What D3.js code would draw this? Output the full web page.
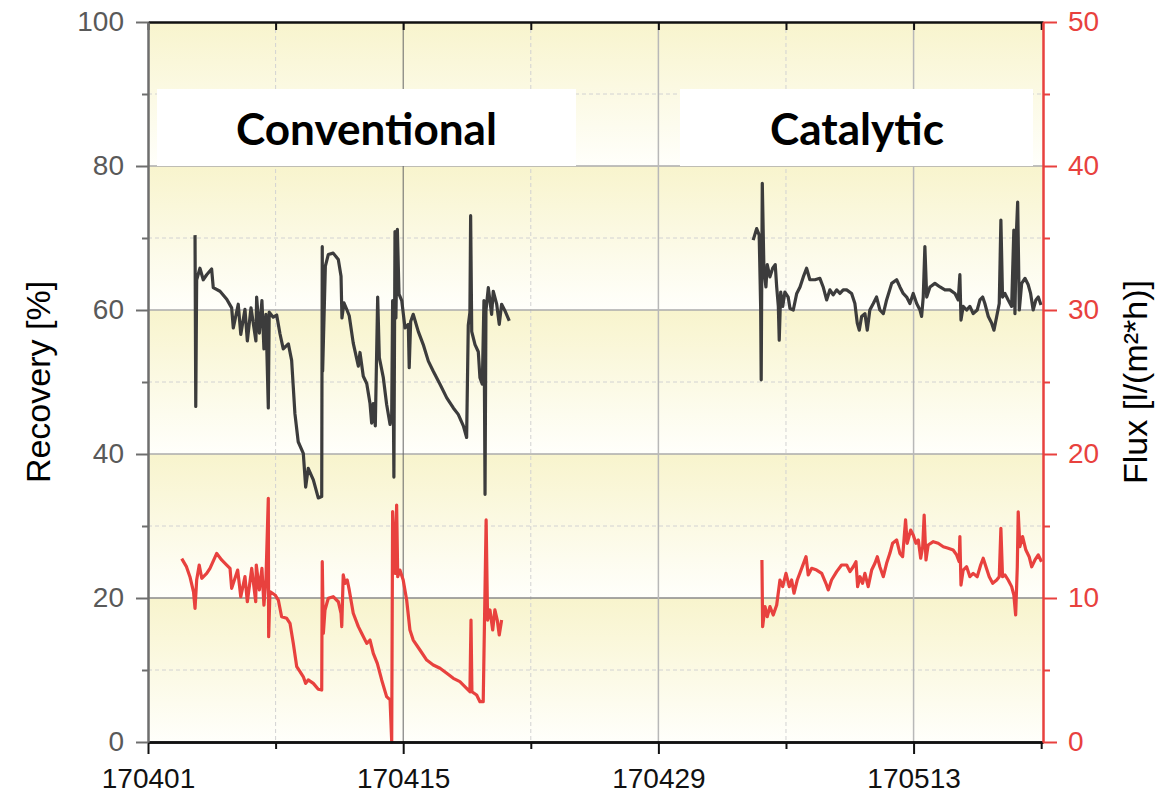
<!DOCTYPE html>
<html>
<head>
<meta charset="utf-8">
<script src="https://cdn.jsdelivr.net/npm/d3@7"></script>
<style>
    body { margin: 0; background: #ffffff; }
</style>
</head>
<body>
<script>
// ---- data (time in days after 170401) ----
const convRecoveryDays = [2.58,2.62,2.67,2.85,3.03,3.22,3.49,3.58,3.95,4.32,4.59,4.68,4.95,5.09,5.32,5.45,5.65,5.92,5.96,6.11,6.25,6.36,6.47,6.60,6.65,6.87,7.06,7.24,7.42,7.70,7.88,8.06,8.24,8.52,8.65,8.79,9.07,9.34,9.53,9.56,9.58,9.73,9.89,10.16,10.44,10.59,10.64,10.75,10.90,11.04,11.26,11.54,11.63,11.81,12.00,12.18,12.27,12.36,12.47,12.60,12.69,12.91,13.09,13.28,13.37,13.42,13.49,13.55,13.60,13.68,13.77,13.92,14.10,14.28,14.33,14.41,14.55,14.83,15.10,15.38,15.65,16.02,16.39,16.75,17.02,17.30,17.48,17.57,17.66,17.70,17.76,17.94,18.12,18.21,18.34,18.43,18.49,18.54,18.67,18.85,18.94,19.13,19.27,19.40,19.58,19.82];
const convRecovery = [70.4,46.6,64.2,65.8,64.2,64.9,65.7,63.1,62.6,61.5,60.3,57.5,60.8,56.6,60.1,55.7,60.3,55.7,61.8,56.8,61.3,54.6,59.4,46.4,59.7,59.0,59.3,56.7,54.6,55.3,53.0,45.6,41.7,40.1,35.4,38.0,36.4,33.9,34.1,68.8,51.5,66.1,67.7,67.9,67.0,64.7,58.9,61.0,60.1,59.2,55.4,52.2,54.1,50.8,49.8,47.0,44.3,47.0,43.9,61.8,53.4,50.6,46.9,44.1,45.5,61.3,36.8,70.9,58.9,71.2,62.2,61.3,57.5,58.0,52.0,58.4,59.4,57.0,55.2,52.9,51.5,49.7,47.8,46.4,45.5,43.9,42.3,57.9,59.7,73.1,57.0,55.2,54.2,50.6,49.7,61.3,34.4,59.9,63.1,59.4,62.6,60.8,58.0,60.8,59.9,58.5];

const convFluxDays = [1.85,2.10,2.30,2.50,2.58,2.67,2.81,2.95,3.22,3.40,3.77,4.04,4.32,4.50,4.59,4.92,5.09,5.32,5.45,5.69,5.91,5.94,6.11,6.25,6.36,6.47,6.60,6.62,6.69,6.97,7.15,7.33,7.61,7.79,7.97,8.16,8.34,8.52,8.65,8.79,9.07,9.34,9.53,9.56,9.62,9.71,9.89,10.16,10.44,10.59,10.63,10.71,10.81,10.93,11.04,11.26,11.54,11.72,12.00,12.18,12.36,12.58,12.82,13.09,13.28,13.37,13.42,13.57,13.64,13.70,13.82,14.00,14.19,14.37,14.55,14.92,15.29,15.65,16.02,16.39,16.75,17.11,17.48,17.66,17.72,17.77,18.03,18.21,18.39,18.55,18.63,18.76,18.91,19.03,19.16,19.27,19.40];
const convFlux = [12.73,12.2,11.48,10.4,9.28,11.25,12.29,11.37,11.71,12.06,13.1,12.64,12.29,12.06,10.67,11.94,10.09,11.48,9.74,12.06,9.74,12.29,10.56,12.06,9.51,11.25,16.92,7.31,10.44,10.21,9.86,8.70,8.59,8.24,6.85,5.23,4.88,4.53,4.07,4.31,4.07,3.66,3.61,12.52,7.55,9.17,9.98,10.09,9.74,8.94,8.01,11.6,11.02,11.25,10.56,8.94,8.01,7.55,6.85,7.08,6.16,5.46,4.31,3.15,2.92,0,16.0,11.7,16.46,11.48,11.94,11.25,9.86,7.78,7.08,6.39,5.69,5.35,5.12,4.77,4.42,4.19,3.73,3.49,8.47,3.49,3.26,2.80,2.80,15.42,8.47,9.17,7.78,9.17,8.47,7.43,8.47];

const catRecoveryDays = [33.20,33.39,33.53,33.61,33.64,33.70,33.79,33.90,33.97,34.12,34.27,34.41,34.49,34.58,34.63,34.71,34.82,34.94,35.12,35.22,35.40,35.59,35.77,35.95,36.13,36.31,36.59,36.86,37.04,37.23,37.41,37.59,37.78,37.96,38.14,38.33,38.60,38.78,38.91,39.02,39.15,39.33,39.46,39.60,39.79,39.97,40.15,40.34,40.52,40.80,41.07,41.25,41.43,41.62,41.80,41.98,42.17,42.35,42.44,42.53,42.62,42.72,42.90,43.17,43.45,43.72,43.99,44.27,44.45,44.54,44.60,44.72,44.91,45.09,45.27,45.49,45.64,45.79,45.91,46.10,46.28,46.41,46.56,46.70,46.79,46.88,47.01,47.19,47.38,47.50,47.56,47.65,47.71,47.80,47.93,48.11,48.29,48.42,48.56,48.71,48.84,48.99];
const catRecovery = [69.7,71.3,70.4,60.5,50.3,77.6,65.6,63.2,66.3,64.6,65.8,66.3,63.2,60.5,55.8,62.5,60.5,62.5,61.8,60.2,60.0,62.3,63.2,64.6,65.8,64.2,64.2,64.4,63.2,61.4,62.8,62.1,62.8,62.3,62.8,62.8,62.3,60.9,58.2,57.2,59.1,59.5,57.2,60.0,60.9,61.8,60.0,59.5,61.4,63.7,64.2,63.2,62.3,61.8,60.9,62.3,60.9,60.0,59.1,61.8,68.8,61.8,63.2,63.7,63.2,62.8,62.8,62.3,61.4,64.9,58.6,60.5,60.0,60.5,59.5,60.0,61.4,61.8,60.9,59.1,58.2,57.2,59.1,60.9,72.5,61.8,62.3,61.4,60.5,71.1,59.5,71.3,75.0,60.0,63.7,64.4,63.5,62.3,60.0,61.4,61.8,60.7];

const catFluxDays = [33.68,33.72,33.85,33.97,34.12,34.30,34.49,34.67,34.82,35.00,35.18,35.31,35.44,35.62,35.86,36.10,36.22,36.41,36.68,36.96,37.19,37.32,37.50,37.78,38.05,38.33,38.51,38.69,38.84,38.93,39.06,39.20,39.33,39.51,39.70,39.88,40.01,40.15,40.34,40.52,40.70,40.85,41.07,41.25,41.40,41.56,41.65,41.84,41.98,42.13,42.26,42.39,42.50,42.58,42.68,42.80,43.08,43.35,43.63,43.90,44.17,44.36,44.50,44.54,44.60,44.72,44.91,45.09,45.27,45.49,45.68,45.82,45.97,46.15,46.34,46.56,46.70,46.79,46.88,47.01,47.19,47.38,47.50,47.60,47.69,47.74,47.83,47.98,48.16,48.34,48.48,48.66,48.84,49.02];
const catFlux = [12.64,8.01,9.40,8.70,9.40,8.82,9.51,11.25,10.79,11.71,10.79,11.25,10.33,11.25,12.06,12.87,11.6,12.06,11.94,11.71,11.02,10.56,11.25,11.83,12.29,12.29,11.83,12.17,12.52,10.79,11.48,11.02,11.71,10.79,11.94,12.41,12.87,12.17,11.48,12.41,13.1,13.8,14.03,13.1,12.87,15.42,13.8,14.72,14.38,13.8,14.03,12.76,13.56,15.76,12.64,13.68,13.91,13.8,13.56,13.45,13.33,12.99,12.52,14.26,10.9,11.94,12.17,11.48,11.71,11.48,12.29,12.76,12.17,11.48,11.02,11.25,11.48,14.84,11.48,11.6,11.25,10.79,10.21,8.82,12.17,15.99,13.56,14.26,13.33,12.87,12.17,12.64,12.99,12.52];

// ---- axis ticks ----
const dateLabels = ['170401', '170415', '170429', '170513'];
const dateMinor = ['170408', '170422', '170506', '170520'];
const recoveryTicks = [0, 20, 40, 60, 80, 100];
const recoveryMinor = [10, 30, 50, 70, 90];
const fluxTicks = [0, 10, 20, 30, 40, 50];
const fluxMinor = [5, 15, 25, 35, 45];
const boxLabels = ['Conventional', 'Catalytic'];

const parseDate = d3.timeParse('%y%m%d');
const startDate = parseDate('170401');
const toDate = d => new Date(startDate.getTime() + d * 864e5);

const renderChart = () => {
    const width = 1170, height = 793;
    const left = 148, right = 1043, top = 22, bottom = 742;
    const black = '#3c3c3c', red = '#e8413e';
    const font = '"Liberation Sans", Arial, sans-serif';

    const svg = d3.select('body').append('svg')
        .attr('width', width)
        .attr('height', height);

    const x = d3.scaleTime().domain([startDate, toDate(49.1)]).range([left, right]);
    const yL = d3.scaleLinear().domain([0, 100]).range([bottom, top]);
    const yR = d3.scaleLinear().domain([0, 50]).range([bottom, top]);

    // yellow fading bands
    const grad = svg.append('defs').append('linearGradient')
        .attr('id', 'band').attr('x1', 0).attr('y1', 0).attr('x2', 0).attr('y2', 1);
    grad.append('stop').attr('offset', 0).attr('stop-color', '#f8f4cd');
    grad.append('stop').attr('offset', 1).attr('stop-color', '#fffffb');
    svg.append('g').selectAll('rect')
        .data(d3.range(0, 100, 20))
        .enter().append('rect')
        .attr('x', left).attr('width', right - left)
        .attr('y', d => yL(d + 20))
        .attr('height', d => yL(d) - yL(d + 20))
        .attr('fill', 'url(#band)');

    // grid
    const grid = svg.append('g');
    grid.selectAll('.hminor').data(recoveryMinor).enter().append('line')
        .attr('x1', left).attr('x2', right)
        .attr('y1', d => yL(d)).attr('y2', d => yL(d))
        .attr('stroke', '#d2d2d2').attr('stroke-dasharray', '4,3');
    grid.selectAll('.vminor').data(dateMinor.slice(0, 3)).enter().append('line')
        .attr('x1', d => x(parseDate(d))).attr('x2', d => x(parseDate(d)))
        .attr('y1', top).attr('y2', bottom)
        .attr('stroke', '#d2d2d2').attr('stroke-dasharray', '4,3');
    grid.selectAll('.hmajor').data(recoveryTicks.slice(1, 5)).enter().append('line')
        .attr('x1', left).attr('x2', right)
        .attr('y1', d => yL(d)).attr('y2', d => yL(d))
        .attr('stroke', d => d === 20 ? '#8a8a8a' : '#ababab')
        .attr('stroke-width', 1.5);
    grid.selectAll('.vmajor').data(dateLabels.slice(1)).enter().append('line')
        .attr('x1', d => x(parseDate(d))).attr('x2', d => x(parseDate(d)))
        .attr('y1', top).attr('y2', bottom)
        .attr('stroke', (d, i) => i === 0 ? '#666666' : '#b8b8b8')
        .attr('stroke-width', (d, i) => i === 0 ? 1 : 1.5);

    // label boxes
    const boxes = [
        {x0: 157, x1: 576, cx: 366.5},
        {x0: 680, x1: 1033, cx: 857}
    ];
    svg.append('g').selectAll('rect')
        .data(boxes).enter().append('rect')
        .attr('x', d => d.x0).attr('width', d => d.x1 - d.x0)
        .attr('y', 89).attr('height', 77)
        .attr('fill', '#ffffff');
    const boxText = svg.append('g').selectAll('text')
        .data(boxes).enter().append('text')
        .attr('x', d => d.cx).attr('y', 145)
        .attr('text-anchor', 'middle')
        .style('font-family', 'Lato, "Open Sans", sans-serif')
        .style('font-weight', 700)
        .style('font-size', '40px')
        .attr('fill', '#000000')
        .text((d, i) => boxLabels[i]);
    // scale text so "Conventional" spans its width in the picture
    const len = boxText.nodes()[0].getComputedTextLength();
    boxText.style('font-size', (40 * 261 / len) + 'px');

    // series
    const lineL = d3.line().x(d => x(toDate(d[0]))).y(d => yL(d[1]));
    const lineR = d3.line().x(d => x(toDate(d[0]))).y(d => yR(d[1]));
    const series = [
        {pts: d3.zip(convRecoveryDays, convRecovery), line: lineL, color: black},
        {pts: d3.zip(catRecoveryDays, catRecovery), line: lineL, color: black},
        {pts: d3.zip(convFluxDays, convFlux), line: lineR, color: red},
        {pts: d3.zip(catFluxDays, catFlux), line: lineR, color: red}
    ];
    svg.append('g').selectAll('path')
        .data(series).enter().append('path')
        .attr('d', d => d.line(d.pts))
        .attr('fill', 'none')
        .attr('stroke', d => d.color)
        .attr('stroke-width', 3.2)
        .attr('stroke-linejoin', 'round');

    // axes
    const styleAxis = (g, color, lineW) => {
        g.select('.domain').attr('stroke', color).attr('stroke-width', lineW);
        g.selectAll('.tick line').attr('stroke', color).attr('stroke-width', 2);
        g.selectAll('.tick text')
            .style('font-family', font).style('font-size', '28px');
    };

    // top border with inward ticks
    svg.append('g').attr('transform', `translate(0,${top})`)
        .call(d3.axisTop(x)
            .tickValues(dateLabels.concat(dateMinor).map(parseDate))
            .tickSize(-8).tickSizeOuter(0).tickFormat(''))
        .call(g => styleAxis(g, '#111111', 2.5));

    // bottom
    svg.append('g').attr('transform', `translate(0,${bottom})`)
        .call(d3.axisBottom(x).tickValues(dateMinor.map(parseDate))
            .tickSize(7).tickSizeOuter(0).tickFormat(''))
        .call(g => styleAxis(g, '#111111', 2.5));
    svg.append('g').attr('transform', `translate(0,${bottom})`)
        .call(d3.axisBottom(x).tickValues(dateLabels.map(parseDate))
            .tickSize(12).tickPadding(14).tickSizeOuter(0)
            .tickFormat(d3.timeFormat('%y%m%d')))
        .call(g => styleAxis(g, '#111111', 2.5))
        .call(g => g.selectAll('.tick text').attr('fill', '#111111'));

    // left
    svg.append('g').attr('transform', `translate(${left},0)`)
        .call(d3.axisLeft(yL).tickValues(recoveryMinor).tickSize(6).tickSizeOuter(0).tickFormat(''))
        .call(g => styleAxis(g, '#6e6e6e', 2));
    svg.append('g').attr('transform', `translate(${left},0)`)
        .call(d3.axisLeft(yL).tickValues(recoveryTicks).tickSize(12).tickPadding(12).tickSizeOuter(0))
        .call(g => styleAxis(g, '#6e6e6e', 2))
        .call(g => g.selectAll('.tick text').attr('fill', '#595959'));

    // right
    svg.append('g').attr('transform', `translate(${right},0)`)
        .call(d3.axisRight(yR).tickValues(fluxMinor).tickSize(7).tickSizeOuter(0).tickFormat(''))
        .call(g => styleAxis(g, red, 2));
    svg.append('g').attr('transform', `translate(${right},0)`)
        .call(d3.axisRight(yR).tickValues(fluxTicks).tickSize(14).tickPadding(11).tickSizeOuter(0))
        .call(g => styleAxis(g, red, 2))
        .call(g => g.selectAll('.tick text').attr('fill', red));

    // axis titles
    const titles = [
        {text: 'Recovery [%]', x: 38},
        {text: 'Flux [l/(m\u00b2*h)]', x: 1135}
    ];
    svg.append('g').selectAll('text')
        .data(titles).enter().append('text')
        .attr('transform', d => `translate(${d.x},${(top + bottom) / 2}) rotate(-90)`)
        .attr('text-anchor', 'middle')
        .attr('dominant-baseline', 'central')
        .style('font-family', font)
        .style('font-size', '34px')
        .attr('fill', '#000000')
        .text(d => d.text);
};

renderChart();
</script>
</body>
</html>
